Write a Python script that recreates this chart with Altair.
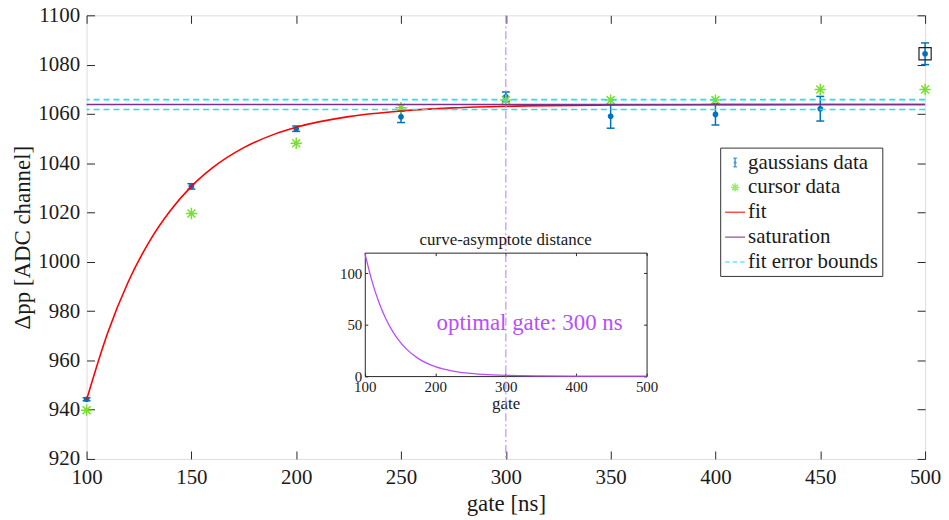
import altair as alt
import pandas as pd

# ---------------- data ----------------
gate = [100, 150, 200, 250, 300, 350, 400, 450, 500]
gauss = [944.2, 1030.6, 1054.0, 1058.8, 1066.9, 1059.0, 1059.8, 1062.1, 1084.4]
gauss_err = [0.6, 1.1, 1.1, 2.3, 2.0, 4.8, 4.3, 5.0, 4.4]
cursor = [939.8, 1019.6, 1048.1, 1062.5, 1065.6, 1065.6, 1065.6, 1069.9, 1069.9]

fit_x = [100, 110, 120, 130, 140, 150, 160, 175, 190, 200, 225, 250, 275, 300, 350, 400, 450, 500]
fit_y = [944.0, 971.0, 992.1, 1008.3, 1020.8, 1030.6, 1038.1, 1046.3, 1051.9, 1054.6,
         1058.9, 1061.2, 1062.45, 1063.1, 1063.6, 1063.75, 1063.8, 1063.8]
dist_y = [119.8, 92.8, 71.7, 55.5, 43.0, 33.2, 25.7, 17.5, 11.9, 9.2,
          4.9, 2.6, 1.35, 0.7, 0.2, 0.05, 0.01, 0.0]

saturation = [1063.8]
bounds = [1065.8, 1061.8]
optimal_gate = [300]
outlier_gate = [500]
outlier_val = [1084.4]

legend_labels = ["gaussians data", "cursor data", "fit", "saturation", "fit error bounds"]

x_ticks = [100, 150, 200, 250, 300, 350, 400, 450, 500]
y_ticks = [920, 940, 960, 980, 1000, 1020, 1040, 1060, 1080, 1100]
inset_x_ticks = [100, 200, 300, 400, 500]
inset_y_ticks = [0, 50, 100]
inset_title = ["curve-asymptote distance"]
inset_note = ["optimal gate: 300 ns"]
inset_note_pos = [334, 52]

# ---------------- styling ----------------
W, H = 843, 446
FONT = "Liberation Serif"
TXT = "#1a1a1a"
BLUE = "#0072BD"
GREEN = "#78e02a"
RED = "#ff0000"
PURPLE = "#7E2F8E"
CYAN = "#1fe3f0"
VLINE = "#c690f7"
INSET = "#b84dff"

# inset placement inside the plot area (pixels)
IX0, IX1, IY0, IY1 = 279.7, 563.0, 362.7, 238.6

xs = alt.Scale(domain=[100, 500], nice=False, zero=False)
ys = alt.Scale(domain=[920, 1100], nice=False, zero=False)


def xi():
    return alt.Scale(domain=[100, 500], range=[IX0, IX1], nice=False, zero=False)


def yi():
    return alt.Scale(domain=[0, 120], range=[IY0, IY1], nice=False, zero=False)


df = pd.DataFrame({"gate": gate, "gauss": gauss, "err": gauss_err, "cursor": cursor})
df["lo"] = df["gauss"] - df["err"]
df["hi"] = df["gauss"] + df["err"]
fit_df = pd.DataFrame({"gx": fit_x, "fy": fit_y, "d": dist_y})

X = lambda f: alt.X(f, type="quantitative", scale=xs, axis=None)
Y = lambda f: alt.Y(f, type="quantitative", scale=ys, axis=None)

cap_path = "M-1,0L1,0"
star_path = "M0,-1L0,1M-1,0L1,0M-0.7,-0.7L0.7,0.7M-0.7,0.7L0.7,-0.7"

err_rule = alt.Chart(df).mark_rule(color=BLUE, strokeWidth=1.5).encode(
    x=X("gate"), y=Y("lo"), y2="hi")
cap_lo = alt.Chart(df).mark_point(shape=cap_path, size=64, color=BLUE, strokeWidth=1.5,
                                  opacity=1).encode(x=X("gate"), y=Y("lo"))
cap_hi = alt.Chart(df).mark_point(shape=cap_path, size=64, color=BLUE, strokeWidth=1.5,
                                  opacity=1).encode(x=X("gate"), y=Y("hi"))
dots = alt.Chart(df).mark_point(shape="circle", filled=True, size=32, color=BLUE,
                                opacity=1).encode(x=X("gate"), y=Y("gauss"))
out_df = pd.DataFrame({"g": outlier_gate, "v": outlier_val})
outlier = alt.Chart(out_df).mark_point(shape="square", filled=False, size=150, color="#222222",
                                       strokeWidth=1.2, opacity=1).encode(x=X("g"), y=Y("v"))
stars = alt.Chart(df).mark_point(shape=star_path, size=130, color=GREEN, strokeWidth=1.5,
                                 opacity=1).encode(x=X("gate"), y=Y("cursor"))
fit_line = alt.Chart(fit_df).mark_line(color=RED, strokeWidth=1.6, interpolate="monotone").encode(
    x=X("gx"), y=Y("fy"))
sat_line = alt.Chart(pd.DataFrame({"v": saturation})).mark_rule(color=PURPLE, strokeWidth=1.6).encode(
    y=Y("v"))
bnd_line = alt.Chart(pd.DataFrame({"v": bounds})).mark_rule(color=CYAN, strokeWidth=1.6,
                                                            strokeDash=[6, 4]).encode(y=Y("v"))
v_line = alt.Chart(pd.DataFrame({"v": optimal_gate})).mark_rule(color=VLINE, strokeWidth=1.2,
                                                                 strokeDash=[8, 3, 2, 3]).encode(x=X("v"))

legend_shapes = [
    "M0,-0.42L0,0.42M-0.17,-0.42L0.17,-0.42M-0.17,0.42L0.17,0.42M0.08,0A0.08,0.08 0 1,1 -0.08,0A0.08,0.08 0 1,1 0.08,0",
    "M0,-0.42L0,0.42M-0.42,0L0.42,0M-0.3,-0.3L0.3,0.3M-0.3,0.3L0.3,-0.3",
    "M-1,0L1,0",
    "M-1,0L1,0",
    "M-1,0L-0.55,0M-0.25,0L0.2,0M0.5,0L0.95,0",
]
legend_colors = [BLUE, GREEN, RED, PURPLE, CYAN]
leg_df = pd.DataFrame({"series": legend_labels, "gx": [None] * 5, "gy": [None] * 5})
leg = alt.Legend(orient="none", legendX=637, legendY=133, title=None, strokeColor="#333333",
                 fillColor="white", padding=4, labelFont=FONT, labelFontSize=21, labelColor=TXT,
                 labelOffset=2, symbolSize=400, symbolStrokeWidth=1.5, rowPadding=4,
                 symbolFillColor="transparent", labelLimit=300)
legend_layer = alt.Chart(leg_df).mark_point(filled=False, strokeWidth=1.5).encode(
    x=X("gx"), y=Y("gy"),
    color=alt.Color("series:N", scale=alt.Scale(domain=legend_labels, range=legend_colors), legend=leg),
    shape=alt.Shape("series:N", scale=alt.Scale(domain=legend_labels, range=legend_shapes), legend=leg),
)

main = alt.layer(err_rule, cap_lo, cap_hi, dots, outlier, stars, fit_line, sat_line, bnd_line,
                 legend_layer, v_line)

# ---------------- inset ----------------
inset_curve = alt.Chart(fit_df).mark_line(color=INSET, strokeWidth=1.3, interpolate="monotone").encode(
    x=alt.X("gx:Q", scale=xi(), axis=None), y=alt.Y("d:Q", scale=yi(), axis=None))
note_df = pd.DataFrame({"t": inset_note, "x": [inset_note_pos[0]], "y": [inset_note_pos[1]]})
inset_text = alt.Chart(note_df).mark_text(font=FONT, fontSize=23, color=INSET, align="center",
                                          baseline="middle").encode(
    x=alt.X("x:Q", scale=xi(), axis=None), y=alt.Y("y:Q", scale=yi(), axis=None), text="t:N")
title_df = pd.DataFrame({"t": inset_title, "x": [300], "y": [120]})
inset_ttl = alt.Chart(title_df).mark_text(font=FONT, fontSize=17, color=TXT, align="center",
                                          baseline="bottom", dy=-4).encode(
    x=alt.X("x:Q", scale=xi(), axis=None), y=alt.Y("y:Q", scale=yi(), axis=None), text="t:N")
inset = alt.layer(inset_curve, inset_text, inset_ttl)


# ---------------- axes (each on its own layer) ----------------
def axis_layer(channel, values, scale, **axis_kw):
    d = pd.DataFrame({"v": values})
    base = dict(values=values, grid=False, domainColor="#262626", tickColor="#262626",
                labelFont=FONT, titleFont=FONT, labelColor=TXT, titleColor=TXT,
                titleFontWeight="normal", format="d")
    base.update(axis_kw)
    ax = alt.Axis(**base)
    if channel == "x":
        enc = {"x": alt.X("v:Q", scale=scale, axis=ax)}
    else:
        enc = {"y": alt.Y("v:Q", scale=scale, axis=ax)}
    return alt.Chart(d).mark_point(opacity=0).encode(**enc)


mx = lambda: alt.Scale(domain=[100, 500], nice=False, zero=False)
my = lambda: alt.Scale(domain=[920, 1100], nice=False, zero=False)

axes = [
    # main x labels
    axis_layer("x", x_ticks, mx(), orient="bottom", ticks=False, domain=False, labelFontSize=21,
               labelPadding=8, labelFlush=False, title="gate [ns]", titleFontSize=23, titlePadding=5),
    # main inward ticks
    axis_layer("x", x_ticks, mx(), orient="top", offset=-H, labels=False, domain=False, tickSize=8,
               title=None),
    axis_layer("x", x_ticks, mx(), orient="bottom", offset=-H, labels=False, domain=False, tickSize=8,
               title=None),
    axis_layer("y", y_ticks, my(), orient="left", ticks=False, domain=False, labelFontSize=21,
               labelPadding=7, title="Δpp [ADC channel]", titleFontSize=23, titlePadding=3),
    axis_layer("y", y_ticks, my(), orient="right", offset=-W, labels=False, domain=False, tickSize=8,
               title=None),
    axis_layer("y", y_ticks, my(), orient="left", offset=-W, labels=False, domain=False, tickSize=8,
               title=None),
    # inset axes
    axis_layer("x", inset_x_ticks, xi(), orient="bottom", offset=-(H - IY0), ticks=False, domain=True,
               labelFontSize=15, labelPadding=3, labelFlush=False, title="gate", titleFontSize=17,
               titlePadding=2),
    axis_layer("x", inset_x_ticks, xi(), orient="top", offset=-IY0, labels=False, domain=False,
               tickSize=3, title=None),
    axis_layer("x", inset_x_ticks, xi(), orient="bottom", offset=-(H - IY1), labels=False, domain=True,
               tickSize=3, title=None),
    axis_layer("y", inset_y_ticks, yi(), orient="left", offset=-IX0, ticks=False, domain=True,
               labelFontSize=15, labelPadding=3, title=None),
    axis_layer("y", inset_y_ticks, yi(), orient="right", offset=-(W - IX0), labels=False, domain=False,
               tickSize=3, title=None),
    axis_layer("y", inset_y_ticks, yi(), orient="left", offset=-IX1, labels=False, domain=True,
               tickSize=3, title=None),
]

chart = alt.layer(main, inset, *axes).resolve_scale(
    x="independent", y="independent").resolve_axis(x="independent", y="independent").properties(
    width=W, height=H,
    padding={"left": 79, "top": 6, "right": 16, "bottom": 58},
    autosize=alt.AutoSizeParams(type="none"),
).configure_view(stroke="#262626", strokeWidth=1).configure(
    background="white", font=FONT
).configure_axis(labelFont=FONT, titleFont=FONT).configure_legend(labelFont=FONT).configure_text(font=FONT)

chart.save("out.html", embed_options={"renderer": "svg", "actions": False})
